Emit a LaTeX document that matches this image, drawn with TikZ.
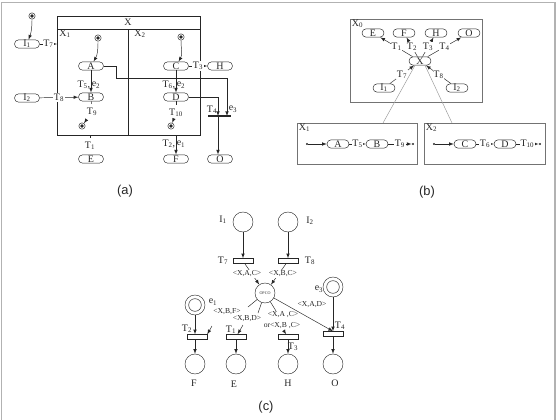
\documentclass[tikz,border=0pt]{standalone}
\usepackage{fontspec}
\setmainfont{Liberation Serif}
\newfontfamily\capfont{Liberation Sans}
\newcommand{\Tn}[1]{T\textsubscript{#1}}
\newcommand{\ev}[1]{e\textsubscript{#1}}
\begin{document}
\begin{tikzpicture}[x=0.03cm,y=-0.03cm,color=black!85,font=\fontsize{8.5}{9}\selectfont,
	st/.style={draw,rounded corners=3.5pt,minimum width=7.5mm,minimum height=2.5mm,inner sep=0},
	sts/.style={st,minimum width=6.6mm},
	tok/.style={circle,draw,inner sep=0,minimum size=1.9mm,
		path picture={\fill (path picture bounding box.center) circle (0.55mm);}},
	pt/.style={circle,fill,inner sep=0,minimum size=0.7mm},
	lbl/.style={fill=white,inner sep=0.6pt},
	place/.style={circle,draw,inner sep=0,minimum size=6mm},
	dplace/.style={place,path picture={\draw (path picture bounding box.center) circle (1.9mm);}},
	trans/.style={draw,inner sep=0,minimum width=6mm,minimum height=1.5mm},
	sm/.style={font=\fontsize{6.5}{7}\selectfont,inner sep=0.5pt},
	paneltitle/.style={font=\capfont\fontsize{11}{12}\selectfont}]
		\useasboundingbox (0,0) rectangle (560,420);
		\draw[gray!60,line width=1.2pt] (1.5,425)--(1.5,2.5)--(555,2.5)--(555,425);

		\draw (57,16) rectangle (200,135);
		\draw (57,29)--(200,29);
		\draw (128,29)--(128,135);
		\node at (128,22.5)(X){X};
		\node[anchor=west,inner sep=1pt] at (58,34)(X1){X\textsubscript{1}};
		\node[anchor=west,inner sep=1pt] at (133,34)(X2){X\textsubscript{2}};

		\node[tok] at (32,16)(k1){};
		\node[st] at (27,44)(I1){I\textsubscript{1}};
		\coordinate (x1w) at (57,44);
		\draw[-latex] (k1) to[out=-90,in=70] (I1);
		\draw[-latex] (I1) -- node[lbl]{\Tn7} (x1w);

		\node[tok] at (98,38)(k2){};
		\node[st] at (91,66)(A){A};
		\node[st] at (91,97)(B){B};
		\node[st] at (27,98)(I2){I\textsubscript{2}};
		\draw[-latex] (k2) to[out=-90,in=60] (A);
		\path[-latex] (A) edge (B);
		\node[anchor=east,inner sep=0.5pt] at (91,85)(t5a){\Tn5,};
		\node[anchor=west,inner sep=0.5pt] at (91,85)(e2a){\ev2};
		\draw[-latex] (I2) -- node[lbl]{\Tn8} (B);
		\node at (92,112)(T9){\Tn9};
		\node[tok] at (82,126)(k3){};
		\draw (B) -- (T9);
		\draw[-latex] (T9) -- (k3);
		\coordinate (x1s) at (90,135);
		\node at (90,146)(T1a){\Tn1};
		\node[st] at (91,159)(E){E};
		\draw (x1s) -- (T1a);

		\node[tok] at (181,37)(k4){};
		\node[st] at (176,66)(C){C};
		\node[st] at (220,66)(H){H};
		\node[st] at (176,97)(D){D};
		\draw[-latex] (k4) to[out=-90,in=60] (C);
		\draw[-latex] (C) -- node[lbl]{\Tn3} (H);
		\path[-latex] (C) edge (D);
		\node[anchor=east,inner sep=0.5pt] at (176,85)(t6a){\Tn6,};
		\node[anchor=west,inner sep=0.5pt] at (176,85)(e2b){\ev2};
		\node at (176,113)(T10){\Tn{10}};
		\node[tok] at (171,126)(k5){};
		\draw (D) -- (T10);
		\draw[-latex] (T10) -- (k5);
		\coordinate (x2s) at (176,135);
		\node[st] at (176,159)(F){F};
		\draw[-latex] (x2s) -- (F);
		\node[anchor=east,inner sep=0.5pt] at (176,144)(t2a){\Tn2,};
		\node[anchor=west,inner sep=0.5pt] at (176,144)(e1a){\ev1};

		\coordinate (b1) at (218,116);
		\coordinate (b2) at (227,116);
		\draw[line width=1.4pt] (208,116)--(231,116);
		\draw[-latex] (D.east) -| (b1);
		\draw[-latex] (A.east) -| (116,78) -| (b2);
		\node[st] at (220,159)(O){O};
		\draw[-latex] (b1) -- (b1 |- O.north);
		\node at (212,110)(t4a){\Tn4};
		\node at (233,109)(e3a){\ev3};
		\node[paneltitle] at (125,191)(la){(a)};

		\draw[black!55] (350,19) rectangle (482,102);
		\node[anchor=west,inner sep=0.5pt] at (351,24)(X0){X\textsubscript{0}};
		\node[sts] at (373,33)(Eb){E};
		\node[sts] at (404,33)(Fb){F};
		\node[sts] at (436,33)(Hb){H};
		\node[sts] at (469,33)(Ob){O};
		\node[sts] at (420,61)(Xb){X};
		\node[sts] at (384,88)(I1b){I\textsubscript{1}};
		\node[sts] at (457,88)(I2b){I\textsubscript{2}};
		\draw[-latex] (Xb) -- node[lbl]{\Tn1} (Eb);
		\draw[-latex] (Xb) -- node[lbl]{\Tn2} (Fb);
		\draw[-latex] (Xb) -- node[lbl]{\Tn3} (Hb);
		\draw[-latex] (Xb) -- node[lbl]{\Tn4} (Ob);
		\draw[-latex] (I1b) -- node[lbl]{\Tn7} (Xb);
		\draw[-latex] (I2b) -- node[lbl]{\Tn8} (Xb);
		\coordinate (s1t) at (383,123);
		\coordinate (s2t) at (452,123);
		\draw[black!40] (Xb.south) ++(-5,0) -- (s1t);
		\draw[black!40] (Xb.south) ++(5,0) -- (s2t);

		\draw[black!55] (297,123) rectangle (417,164);
		\node[anchor=west,inner sep=0.5pt] at (298,128)(X1b){X\textsubscript{1}};
		\node[pt] at (307,144)(p1){};
		\node[sts] at (338,144)(Ab){A};
		\node[sts] at (377,144)(Bb){B};
		\node[pt] at (413,144)(p2){};
		\draw[-latex] (p1) -- (Ab);
		\draw[-latex] (Ab) -- node[lbl]{\Tn5} (Bb);
		\draw[-latex] (Bb) -- node[lbl]{\Tn9} (p2);

		\draw[black!55] (424,123) rectangle (545,164);
		\node[anchor=west,inner sep=0.5pt] at (425,128)(X2b){X\textsubscript{2}};
		\node[pt] at (434,144)(p3){};
		\node[sts] at (465,144)(Cb){C};
		\node[sts] at (505,144)(Db){D};
		\node[pt] at (540,144)(p4){};
		\draw[-latex] (p3) -- (Cb);
		\draw[-latex] (Cb) -- node[lbl]{\Tn6} (Db);
		\draw[-latex] (Db) -- node[lbl]{\Tn{10}} (p4);
		\node[paneltitle] at (427,192)(lb){(b)};

		\node[place] at (243,222)(I1c){};
		\node at (223,220)(I1l){I\textsubscript{1}};
		\node[place] at (288,222)(I2c){};
		\node at (310,221)(I2l){I\textsubscript{2}};
		\node[trans] at (243,261)(T7c){};
		\node at (223,261)(T7l){\Tn7};
		\node[trans] at (288,261)(T8c){};
		\node at (310,261)(T8l){\Tn8};
		\path[-latex] (I1c) edge (T7c) (I2c) edge (T8c);
		\node[place] at (265,293)(op){\fontsize{3.5}{4}\selectfont OPCO};
		\path[-latex] (T7c) edge (op) (T8c) edge (op);
		\node[sm,fill=white] at (247,274)(xac){<X,A,C>};
		\node[sm,fill=white] at (283,274)(xbc){<X,B,C>};

		\node[dplace] at (333,287)(e3){};
		\node at (319,289)(e3l){\ev3};
		\node[dplace] at (195,305)(e1){};
		\node at (213,302)(e1l){\ev1};

		\node[trans] at (197,337)(T2c){};
		\node at (187,329)(T2l){\Tn2};
		\node[trans] at (236,337)(T1c){};
		\node at (231,330)(T1l){\Tn1};
		\node[trans] at (288,337)(T3c){};
		\node at (293,347)(T3l){\Tn3};
		\node[trans] at (333,334)(T4c){};
		\node at (340,326)(T4l){\Tn4};
		\draw[-latex] (e1) -- (e1 |- T2c.north);
		\draw[-latex] (e3) -- (T4c);

		\node[place] at (195,364)(Fc){};
		\node[place] at (236,364)(Ec){};
		\node[place] at (288,364)(Hc){};
		\node[place] at (333,364)(Oc){};
		\node at (194,383)(Fl){F};
		\node at (234,384)(El){E};
		\node at (288,383)(Hl){H};
		\node at (335,383)(Ol){O};
		\draw[-latex] (T2c.south -| Fc) -- (Fc);
		\path[-latex] (T1c) edge (Ec) (T3c) edge (Hc) (T4c) edge (Oc);

		\coordinate (c1) at (248,307);
		\coordinate (c2) at (212,326);
		\coordinate (c3) at (258,313);
		\coordinate (c4) at (243,325);
		\coordinate (c5) at (276,311);
		\coordinate (c6) at (284,331);
		\draw (op) -- (c1);
		\draw[-latex] (c2) -- (T2c.north east);
		\draw (op) -- (c3);
		\draw[-latex] (c4) -- (T1c);
		\draw (op) -- (c5);
		\draw[-latex] (c6) -- (T3c);
		\draw[-latex] (op) -- (T4c.north);
		\node[sm] at (227,312)(xbf){<X,B,F>};
		\node[sm] at (247,319)(xbd){<X,B,D>};
		\node[sm] at (283,315)(xac2){<X,A ,C>};
		\node[sm] at (282,326)(xbc2){or<X,B ,C>};
		\node[sm] at (312,305)(xad){<X,A,D>};
		\node[paneltitle] at (266,407)(lc){(c)};
	\end{tikzpicture}
\end{document}
